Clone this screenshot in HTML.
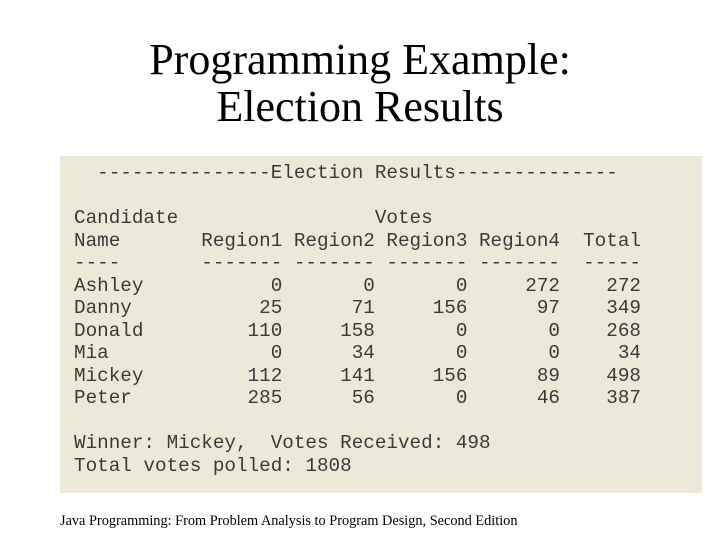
<!DOCTYPE html>
<html><head><meta charset="utf-8"><style>
body{margin:0;width:720px;height:540px;background:#fff;position:relative;overflow:hidden}
.t{position:absolute;left:0;width:720px;text-align:center;font-family:"Liberation Serif",serif;font-size:44px;color:#000;line-height:47px}
#panel{position:absolute;left:60px;top:156px;width:642px;height:337px;background:#ebead8}
pre{position:absolute;left:14px;top:6px;margin:0;font-family:"Liberation Mono",monospace;font-size:19.3px;line-height:22.5px;color:#3a3a3a}
#foot{position:absolute;left:60px;top:513px;font-family:"Liberation Serif",serif;font-size:14.3px;color:#000}
</style></head><body>
<div class="t" style="top:36px">Programming Example:<br>Election Results</div>
<div id="panel"><pre>  ---------------Election Results--------------

Candidate                 Votes
Name       Region1 Region2 Region3 Region4  Total
----       ------- ------- ------- -------  -----
Ashley           0       0       0     272    272
Danny           25      71     156      97    349
Donald         110     158       0       0    268
Mia              0      34       0       0     34
Mickey         112     141     156      89    498
Peter          285      56       0      46    387

Winner: Mickey,  Votes Received: 498
Total votes polled: 1808</pre></div>
<div id="foot">Java Programming: From Problem Analysis to Program Design, Second Edition</div>
</body></html>
